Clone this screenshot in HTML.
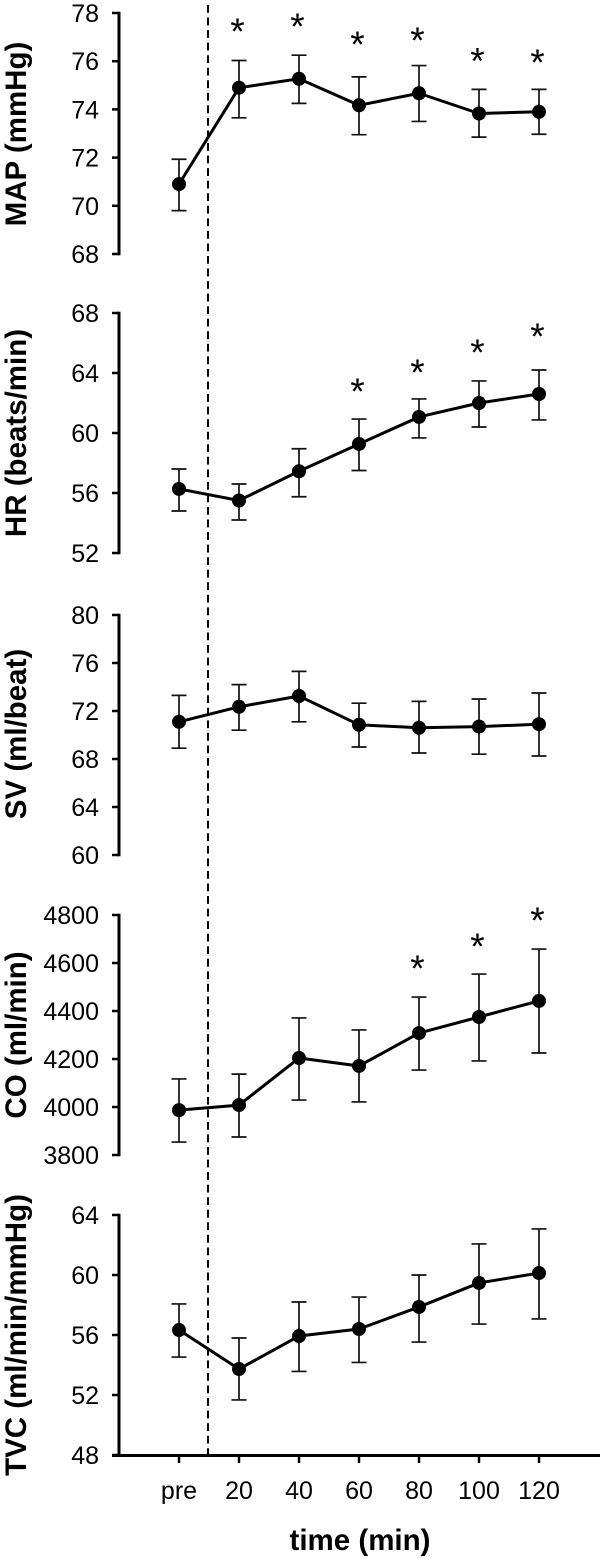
<!DOCTYPE html>
<html>
<head>
<meta charset="utf-8">
<title>Hemodynamic time course</title>
<style>
html,body{margin:0;padding:0;background:#fff;}
svg{display:block;font-family:"Liberation Sans",Arial,sans-serif;}
</style>
</head>
<body>
<svg id="chart" width="600" height="1558" viewBox="0 0 600 1558" xmlns="http://www.w3.org/2000/svg"></svg>
<script>
const categories = ['pre','20','40','60','80','100','120'];

const mapMean  = [70.9,74.9,75.27,74.17,74.67,73.83,73.9];
const mapUpper = [71.93,76.03,76.25,75.35,75.82,74.83,74.83];
const mapLower = [69.8,73.65,74.25,72.95,73.5,72.85,72.97];
const mapTicks = [68,70,72,74,76,78];
const mapStars = [null,77.42,77.63,76.88,77.05,76.2,76.13];

const hrMean  = [56.27,55.5,57.45,59.27,61.07,62,62.6];
const hrUpper = [57.6,56.6,58.95,60.93,62.27,63.47,64.2];
const hrLower = [54.8,54.2,55.75,57.5,59.67,60.4,60.87];
const hrTicks = [52,56,60,64,68];
const hrStars = [null,null,null,63.07,64.33,65.67,66.73];

const svMean  = [71.1,72.35,73.25,70.85,70.6,70.7,70.9];
const svUpper = [73.3,74.2,75.3,72.65,72.8,73,73.5];
const svLower = [68.9,70.4,71.1,69,68.5,68.4,68.25];
const svTicks = [60,64,68,72,76,80];
const svStars = [null,null,null,null,null,null,null];

const coMean  = [3987,4008,4204,4171,4308,4375,4442];
const coUpper = [4117,4137,4371,4321,4458,4554,4658];
const coLower = [3854,3875,4029,4021,4154,4192,4225];
const coTicks = [3800,4000,4200,4400,4600,4800];
const coStars = [null,null,null,null,4596,4688,4796];

const tvcMean  = [56.33,53.73,55.93,56.4,57.87,59.47,60.13];
const tvcUpper = [58.07,55.8,58.2,58.53,60,62.07,63.07];
const tvcLower = [54.53,51.67,53.57,54.17,55.53,56.73,57.07];
const tvcTicks = [48,52,56,60,64];
const tvcStars = [null,null,null,null,null,null,null];

const svg = document.getElementById('chart');
const NS = 'http://www.w3.org/2000/svg';

function make(tag, attrs, parent) {
  const el = document.createElementNS(NS, tag);
  for (const k in attrs) el.setAttribute(k, attrs[k]);
  parent.appendChild(el);
  return el;
}
function xPos(i) { return 179 + i * 60; }

function drawPanel(key, title, titleY, top, bottom, ticks, mean, upper, lower, stars) {
  const min = ticks[0], max = ticks[ticks.length - 1];
  const y = v => bottom - (v - min) / (max - min) * (bottom - top);

  const g = make('g', {}, svg);
  
  

  const axis = make('line', {x1:119, x2:119, y1:top-1.3, y2:bottom+1.3, stroke:'#000', 'stroke-width':3}, g);
  
  

  ticks.forEach(t => {
    const tick = make('line', {x1:112, x2:119, y1:y(t), y2:y(t), stroke:'#000', 'stroke-width':2.5}, g);
    
    
    const label = make('text', {x:99, y:y(t)+9, 'text-anchor':'end', 'font-size':25, fill:'#000'}, g);
    
    
    label.textContent = t;
  });

  const yTitle = make('text', {x:0, y:0, 'text-anchor':'middle', 'font-size':29.5, 'font-weight':'bold', fill:'#000',
    transform:'translate(26 ' + titleY + ') rotate(-90)'}, g);
  
  
  yTitle.textContent = title;

  categories.forEach((c, i) => {
    const x = xPos(i);
    const bar = make('path', {
      d: 'M' + (x-7.5) + ' ' + y(upper[i]) + 'H' + (x+7.5) + 'M' + x + ' ' + y(upper[i]) + 'V' + y(lower[i]) + 'M' + (x-7.5) + ' ' + y(lower[i]) + 'H' + (x+7.5),
      fill:'none', stroke:'#111', 'stroke-width':1.7}, g);
    
    
  });

  const line = make('polyline', {
    points: mean.map((v, i) => xPos(i) + ',' + y(v)).join(' '),
    fill:'none', stroke:'#000', 'stroke-width':3, 'stroke-linejoin':'round'}, g);
  
  

  mean.forEach((v, i) => {
    const pt = make('circle', {cx:xPos(i), cy:y(v), r:7, fill:'#000'}, g);
    
    
  });

  stars.forEach((v, i) => {
    if (v === null) return;
    const s = make('text', {x:xPos(i)-1.5, y:y(v)+17, 'text-anchor':'middle', 'font-size':37, fill:'#000'}, g);
    
    
    s.textContent = '*';
  });
}

const dashed = make('line', {x1:208, x2:208, y1:5, y2:1455, stroke:'#000', 'stroke-width':2, 'stroke-dasharray':'7.8 4.75'}, svg);



drawPanel('map', 'MAP (mmHg)', 134, 13, 254, mapTicks, mapMean, mapUpper, mapLower, mapStars);
drawPanel('hr', 'HR (beats/min)', 433, 313, 553, hrTicks, hrMean, hrUpper, hrLower, hrStars);
drawPanel('sv', 'SV (ml/beat)', 734, 615, 855, svTicks, svMean, svUpper, svLower, svStars);
drawPanel('co', 'CO (ml/min)', 1035, 915, 1155, coTicks, coMean, coUpper, coLower, coStars);
drawPanel('tvc', 'TVC (ml/min/mmHg)', 1335, 1215, 1455, tvcTicks, tvcMean, tvcUpper, tvcLower, tvcStars);

const xAxis = make('line', {x1:112, x2:600, y1:1455.5, y2:1455.5, stroke:'#000', 'stroke-width':3}, svg);



categories.forEach((c, i) => {
  const tick = make('line', {x1:xPos(i), x2:xPos(i), y1:1455, y2:1463, stroke:'#000', 'stroke-width':2.5}, svg);
  
  
  const label = make('text', {x:xPos(i), y:1499, 'text-anchor':'middle', 'font-size':25, fill:'#000'}, svg);
  
  
  label.textContent = c;
});

const xTitle = make('text', {x:360, y:1550, 'text-anchor':'middle', 'font-size':29.5, 'font-weight':'bold', fill:'#000'}, svg);


xTitle.textContent = 'time (min)';
</script>
</body>
</html>
